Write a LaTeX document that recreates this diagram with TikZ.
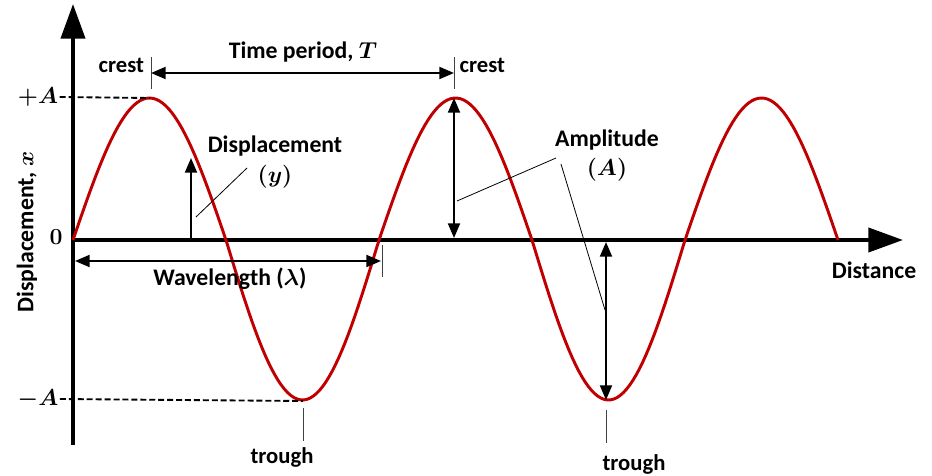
\documentclass[tikz,border=0pt]{standalone}
\usepackage{fontspec}
\setmainfont{Carlito}
\usepackage{amsmath}
\usetikzlibrary{arrows.meta,positioning,calc}
\definecolor{wavered}{RGB}{192,0,0}
\tikzset{
    axis/.style={line width=3pt,-{Triangle[length=26pt,width=18pt]}},
    wave/.style={wavered,line width=2.2pt},
    measure/.style={line width=1.5pt,{Triangle[length=11pt,width=9pt]}-{Triangle[length=11pt,width=9pt]}},
    pointer/.style={line width=1.5pt,-{Triangle[length=11pt,width=9pt]}},
    leader/.style={line width=0.6pt},
    tick/.style={line width=0.6pt,black!75},
    guide/.style={line width=1.4pt,dash pattern=on 4.5pt off 2.2pt},
    lbl/.style={font=\fontsize{17.8}{20}\selectfont\bfseries\boldmath,inner sep=1pt,align=center},
    small/.style={font=\fontsize{17}{19}\selectfont\bfseries,inner sep=1pt},
    mathlbl/.style={font=\fontsize{19}{21}\selectfont\boldmath,inner sep=1pt}
}
\begin{document}
\begin{tikzpicture}[x=0.75pt,y=-0.75pt]
    \useasboundingbox (0,0) rectangle (932,475);

    % Axes
    \coordinate (O) at (73,240);
    \coordinate (ybot) at (73,445);
    \coordinate (ytop) at (73,4);
    \coordinate (xbeg) at (71,240);
    \coordinate (xend) at (903,240);
    \draw[axis] (ybot) -- (ytop);
    \draw[axis] (xbeg) -- (xend);
    \node[lbl] (dist) at (874,270) {Distance};
    \node[lbl,rotate=90] (ylab) at (27,232) {Displacement, $x$};

    % Wave
    \draw[wave] plot[domain=0:765,samples=240]
        ({73+\x},{240-(sin(\x/306*360)>0 ? 142 : 160)*sin(\x/306*360)});
    \coordinate (crest1) at (150,98);
    \coordinate (crest2) at (455,98);
    \coordinate (trough1) at (303,401);
    \coordinate (trough2) at (606,401);

    % Levels
    \node[mathlbl] (plusA) at (38,97) {$+A$};
    \node[mathlbl] (zero) at (56,237) {$\mathbf{0}$};
    \node[mathlbl] (minusA) at (38,399) {$-A$};
    \draw[guide] (plusA.east) -- (crest1);
    \draw[guide] (minusA.east) -- (trough1);

    % Crests and time period
    \coordinate (c1top) at (151,57);
    \coordinate (c1bot) at (151,89);
    \coordinate (c2top) at (454,57);
    \coordinate (c2bot) at (454,89);
    \draw[tick] (c1top) -- (c1bot);
    \draw[tick] (c2top) -- (c2bot);
    \node[small,left=4pt of c1top,anchor=north east] (crestL) {crest};
    \node[small,right=3pt of c2top,anchor=north west] (crestR) {crest};
    \coordinate (tpL) at (151,73);
    \coordinate (tpR) at (454,73);
    \draw[measure] (tpL) -- (tpR);
    \node[lbl] (tplab) at (303,52) {Time period, $T$};

    % Displacement
    \coordinate (dbase) at (191,240);
    \coordinate (dtip) at (191,158);
    \draw[pointer] (dbase) -- (dtip);
    \node[lbl] (displab) at (275,146) {Displacement};
    \node[mathlbl] (ylbl) at (275,177) {$(y)$};
    \coordinate (dlead1) at (247,168);
    \coordinate (dlead2) at (196,217);
    \draw[leader] (dlead1) -- (dlead2);

    % Amplitude
    \coordinate (a1top) at (454,98);
    \coordinate (a1bot) at (454,238);
    \coordinate (a2top) at (606,242);
    \coordinate (a2bot) at (606,400);
    \draw[measure] (a1top) -- (a1bot);
    \draw[measure] (a2top) -- (a2bot);
    \node[lbl] (amplab) at (607,140) {Amplitude};
    \node[mathlbl] (Albl) at (607,170) {$(A)$};
    \coordinate (alead) at (556,158);
    \coordinate (alead2) at (561,164);
    \coordinate (aend1) at (457,201);
    \coordinate (aend2) at (605,310);
    \draw[leader] (alead) -- (aend1);
    \draw[leader] (alead2) -- (aend2);

    % Wavelength
    \coordinate (wlL) at (75,261);
    \coordinate (wlR) at (381,261);
    \draw[measure] (wlL) -- (wlR);
    \coordinate (wtop) at (382,245);
    \coordinate (wbot) at (382,277);
    \draw[tick] (wtop) -- (wbot);
    \node[lbl] (wllab) at (230,279) {Wavelength ($\lambda$)};

    % Troughs
    \coordinate (t1top) at (303,408);
    \coordinate (t1bot) at (303,441);
    \coordinate (t2top) at (606,410);
    \coordinate (t2bot) at (606,443);
    \draw[tick] (t1top) -- (t1bot);
    \draw[tick] (t2top) -- (t2bot);
    \node[small] (tr1) at (282,457) {trough};
    \node[small] (tr2) at (634,464) {trough};
\end{tikzpicture}
\end{document}
